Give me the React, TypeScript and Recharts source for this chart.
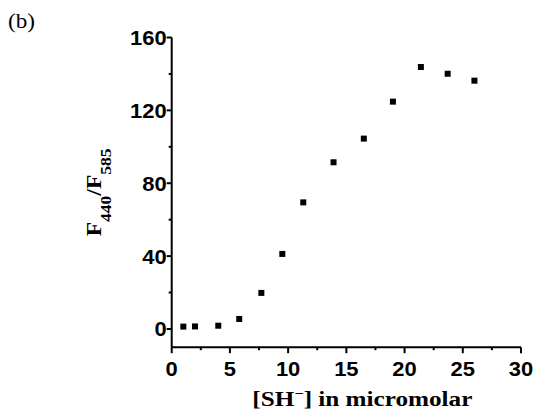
import React from "react";
import { ScatterChart, Scatter, XAxis, YAxis, Label } from "recharts";

const concentrations = [1, 2, 4, 5.8, 7.7, 9.5, 11.3, 13.9, 16.5, 19, 21.4, 23.7, 26];
const ratios = [1.3, 1.4, 1.8, 5.5, 19.8, 41.2, 69.5, 91.5, 104.5, 124.8, 143.8, 140.1, 136.3];
const xTicks = [0, 2.5, 5, 7.5, 10, 12.5, 15, 17.5, 20, 22.5, 25, 27.5, 30];
const yTicks = [0, 20, 40, 60, 80, 100, 120, 140, 160];
const xMajor = [0, 5, 10, 15, 20, 25, 30];
const yMajor = [0, 40, 80, 120, 160];

const data = concentrations.map((c, i) => ({ x: c, y: ratios[i] }));

const SANS = "Liberation Sans";
const SERIF = "Liberation Serif";

const XTick = (props: any) => {
  const { x, y, payload } = props;
  const major = xMajor.includes(payload.value);
  const label = String(payload.value);
  return (
    <g>
      <line x1={x} y1={y} x2={x} y2={y + (major ? 6 : 3)} stroke="#000" strokeWidth={2} />
      {major && (
        <text
          x={x}
          y={y + 29}
          textAnchor="middle"
          style={{ fontFamily: SANS, fontWeight: 700, fontSize: 21 }}
          fill="#000"
          textLength={label.length * 12.2}
          lengthAdjust="spacingAndGlyphs"
        >
          {label}
        </text>
      )}
    </g>
  );
};

const YTick = (props: any) => {
  const { x, y, payload } = props;
  const major = yMajor.includes(payload.value);
  const label = String(payload.value);
  return (
    <g>
      <line x1={x - (major ? 5 : 3)} y1={y} x2={x} y2={y} stroke="#000" strokeWidth={2} />
      {major && (
        <text
          x={x - 5}
          y={y + 7.5}
          textAnchor="end"
          style={{ fontFamily: SANS, fontWeight: 700, fontSize: 21 }}
          fill="#000"
          textLength={label.length * 12.2}
          lengthAdjust="spacingAndGlyphs"
        >
          {label}
        </text>
      )}
    </g>
  );
};

const XTitle = (props: any) => {
  const vb = props.viewBox;
  const cx = vb.x + vb.width / 2 + 16;
  const by = vb.y + 58.5;
  return (
    <text
      x={cx}
      y={by}
      textAnchor="middle"
      style={{ fontFamily: SERIF, fontWeight: 700, fontSize: 20 }}
      fill="#000"
      textLength={220}
      lengthAdjust="spacingAndGlyphs"
    >
      <tspan>[SH</tspan>
      <tspan dy={-8} style={{ fontSize: 13 }}>−</tspan>
      <tspan dy={8}>] in micromolar</tspan>
    </text>
  );
};

const YTitle = (props: any) => {
  const vb = props.viewBox;
  const bx = 100.7;
  const cy = vb.y + vb.height / 2;
  return (
    <g>
      <text
        x={bx}
        y={cy}
        transform={`rotate(-90, ${bx}, ${cy})`}
        textAnchor="middle"
        style={{ fontFamily: SERIF, fontWeight: 700, fontSize: 20 }}
        fill="#000"
        textLength={88}
        lengthAdjust="spacingAndGlyphs"
      >
        <tspan>F</tspan>
        <tspan dy={10} style={{ fontSize: 15 }}>440</tspan>
        <tspan dy={-10}>/F</tspan>
        <tspan dy={10} style={{ fontSize: 15 }}>585</tspan>
      </text>
      <text
        x={8}
        y={28}
        style={{ fontFamily: SERIF, fontSize: 20 }}
        fill="#000"
        textLength={27}
        lengthAdjust="spacingAndGlyphs"
      >
        (b)
      </text>
    </g>
  );
};

const Square = (props: any) => {
  const { cx, cy } = props;
  return <rect x={cx - 3} y={cy - 3} width={6} height={6} fill="#000" />;
};

export default function App() {
  return (
    <div style={{ position: "absolute", left: 0, top: 0, width: 537, height: 412, background: "#fff" }}>
      <ScatterChart
        width={537}
        height={412}
        margin={{ top: 37.5, right: 16, bottom: 34.8, left: 111.7 }}
      >
        <XAxis
          type="number"
          dataKey="x"
          domain={[0, 30]}
          ticks={xTicks}
          interval={0}
          height={30}
          axisLine={{ stroke: "#000", strokeWidth: 2 }}
          tickLine={false}
          tickSize={0}
          tickMargin={0}
          tick={<XTick />}
        >
          <Label content={<XTitle />} />
        </XAxis>
        <YAxis
          type="number"
          dataKey="y"
          domain={[-10, 160]}
          ticks={yTicks}
          interval={0}
          width={60}
          axisLine={{ stroke: "#000", strokeWidth: 2 }}
          tickLine={false}
          tickSize={0}
          tickMargin={0}
          tick={<YTick />}
        >
          <Label content={<YTitle />} />
        </YAxis>
        <Scatter data={data} fill="#000" shape={<Square />} isAnimationActive={false} />
      </ScatterChart>
    </div>
  );
}
